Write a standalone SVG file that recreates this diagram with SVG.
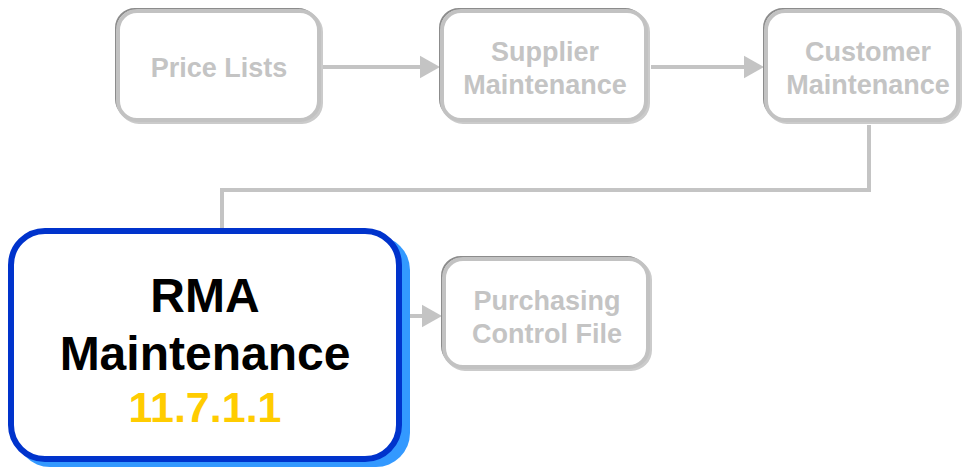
<svg xmlns="http://www.w3.org/2000/svg" width="963" height="474" viewBox="0 0 963 474">
  <defs>
    <style>
      .shade { fill: none; stroke: #cbcbcb; stroke-width: 4; }
      .edge { fill: none; stroke: #8c8c8c; stroke-width: 2; }
      .box { fill: #ffffff; stroke: #c2c2c2; stroke-width: 4; }
      .lbl { font-family: "Liberation Sans", Arial, sans-serif; font-weight: bold; font-size: 27px; fill: #c4c4c4; text-anchor: middle; }
      .conn { fill: none; stroke: #c4c4c4; stroke-width: 4; }
      .big { font-family: "Liberation Sans", Arial, sans-serif; font-weight: bold; text-anchor: middle; }
    </style>
    <marker id="arrow" markerWidth="5" markerHeight="6" refX="4" refY="3" orient="auto" markerUnits="strokeWidth">
      <path d="M0,0.2 L5,3 L0,5.8 Z" fill="#c4c4c4"/>
    </marker>
  </defs>

  <!-- connectors -->
  <g id="connectors">
    <line class="conn" x1="323" y1="67" x2="436" y2="67" marker-end="url(#arrow)"/>
    <line class="conn" x1="651" y1="67" x2="760" y2="67" marker-end="url(#arrow)"/>
    <polyline class="conn" points="869,125 869,190 222,190 222,232"/>
    <line class="conn" x1="405" y1="316" x2="438" y2="316" marker-end="url(#arrow)"/>
  </g>

  <!-- Price Lists -->
  <g id="price-lists">
    <rect class="shade" x="120" y="13" width="201" height="109" rx="19"/>
    <rect class="edge" x="116" y="9" width="201" height="109" rx="19"/>
    <rect class="box" x="118" y="11" width="201" height="109" rx="19"/>
    <text class="lbl" x="219" y="77">Price Lists</text>
  </g>

  <!-- Supplier Maintenance -->
  <g id="supplier-maintenance">
    <rect class="shade" x="444" y="13" width="204" height="109" rx="19"/>
    <rect class="edge" x="440" y="9" width="204" height="109" rx="19"/>
    <rect class="box" x="442" y="11" width="204" height="109" rx="19"/>
    <text class="lbl" x="545" y="61">Supplier</text>
    <text class="lbl" x="545" y="94">Maintenance</text>
  </g>

  <!-- Customer Maintenance -->
  <g id="customer-maintenance">
    <rect class="shade" x="768" y="13" width="192" height="109" rx="19"/>
    <rect class="edge" x="764" y="9" width="192" height="109" rx="19"/>
    <rect class="box" x="766" y="11" width="192" height="109" rx="19"/>
    <text class="lbl" x="868" y="61">Customer</text>
    <text class="lbl" x="868" y="94">Maintenance</text>
  </g>

  <!-- RMA Maintenance (current step) -->
  <g id="rma-maintenance">
    <rect x="16" y="236" width="394" height="231" rx="34" fill="#3399ff"/>
    <rect x="11" y="231" width="388" height="228" rx="34" fill="#ffffff" stroke="#0033cc" stroke-width="6"/>
    <text class="big" x="205" y="312" font-size="48" fill="#000000">RMA</text>
    <text class="big" x="205" y="370" font-size="48" fill="#000000">Maintenance</text>
    <text class="big" x="205" y="422" font-size="43" fill="#ffcc00">11.7.1.1</text>
  </g>

  <!-- Purchasing Control File -->
  <g id="purchasing-control-file">
    <rect class="shade" x="446" y="261" width="204" height="108" rx="19"/>
    <rect class="edge" x="442" y="257" width="204" height="108" rx="19"/>
    <rect class="box" x="444" y="259" width="204" height="108" rx="19"/>
    <text class="lbl" x="547" y="310">Purchasing</text>
    <text class="lbl" x="547" y="343">Control File</text>
  </g>
</svg>
